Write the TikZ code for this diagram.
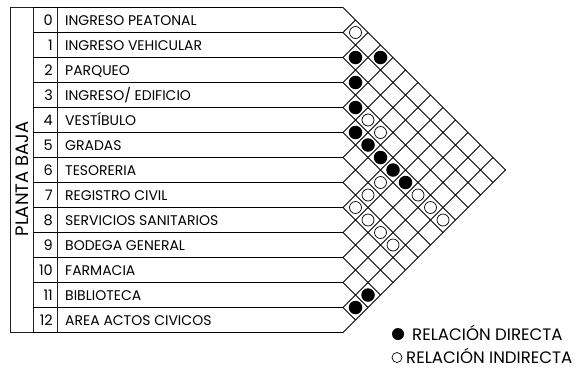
\documentclass[tikz,border=0pt]{standalone}
\usepackage{fontspec}
\setmainfont{Poppins}
\usetikzlibrary{positioning}
\definecolor{rule}{HTML}{202020}

\begin{document}
\begin{tikzpicture}[x=1pt,y=-1pt,
  frame/.style={draw=rule,line width=0.9pt},
  net/.style={draw=black,line width=0.8pt},
  lbl/.style={font=\fontsize{14}{14}\selectfont,anchor=base west,inner sep=0pt},
  num/.style={font=\fontsize{14.5}{14.5}\selectfont,anchor=base east,inner sep=0pt},
  key/.style={font=\fontsize{16.6}{16.6}\selectfont,anchor=base west,inner sep=0pt},
  direct/.style={circle,fill=black,minimum size=13.5pt,inner sep=0pt},
  indirect/.style={circle,draw=black,line width=0.7pt,fill=white,minimum size=12pt,inner sep=0pt}]
  \useasboundingbox (0,0) rectangle (586,370);
  \draw[frame] (10,7.5) rectangle (33,332.5);
  \draw[frame] (57,7.5) -- (57,332.5);
  \node[rotate=90,font=\fontsize{18}{18}\selectfont,inner sep=0pt] (planta) at (22,179) {PLANTA BAJA};
  \foreach \k in {0,...,13}{\draw[net] (33,7.5+25*\k) -- (343,7.5+25*\k);}
  \foreach \k in {0,...,12}{\draw[net] (343,7.5+25*\k) -- ++({(325-25*\k)/2},{(325-25*\k)/2});}
  \foreach \k in {1,...,13}{\draw[net] (343,7.5+25*\k) -- ++({12.5*\k},{-12.5*\k});}
  \foreach \t [count=\i from 0] in {INGRESO PEATONAL,INGRESO VEHICULAR,PARQUEO,{INGRESO/ EDIFICIO},VESTÍBULO,GRADAS,TESORERIA,REGISTRO CIVIL,SERVICIOS SANITARIOS,BODEGA GENERAL,FARMACIA,BIBLIOTECA,AREA ACTOS CIVICOS}{
    \node[num] (n\i) at (53,25+25*\i) {\i};
    \node[lbl] (r\i) at (65,25+25*\i) {\t};}
  \foreach \a/\b in {1/2,0/3,2/3,3/4,4/5,4/6,4/7,4/8,4/9,10/12,11/12}{
    \node[direct] (d\a-\b) at ({343+12.5*(\b-\a)},{20+12.5*(\a+\b)}) {};}
  \foreach \a/\b in {0/1,3/5,3/6,5/8,6/8,7/8,4/10,4/11,4/12,7/9,7/10,7/11}{
    \node[indirect] (o\a-\b) at ({343+12.5*(\b-\a)},{20+12.5*(\a+\b)}) {};}
  \node[direct,minimum size=12pt] (kd) at (398,334) {};
  \node[key] (kdt) at (412,340) {RELACIÓN DIRECTA};
  \node[indirect,minimum size=10pt] (ki) at (397,357.5) {};
  \node[key] (kit) at (406,363.5) {RELACIÓN INDIRECTA};
\end{tikzpicture}
\end{document}
